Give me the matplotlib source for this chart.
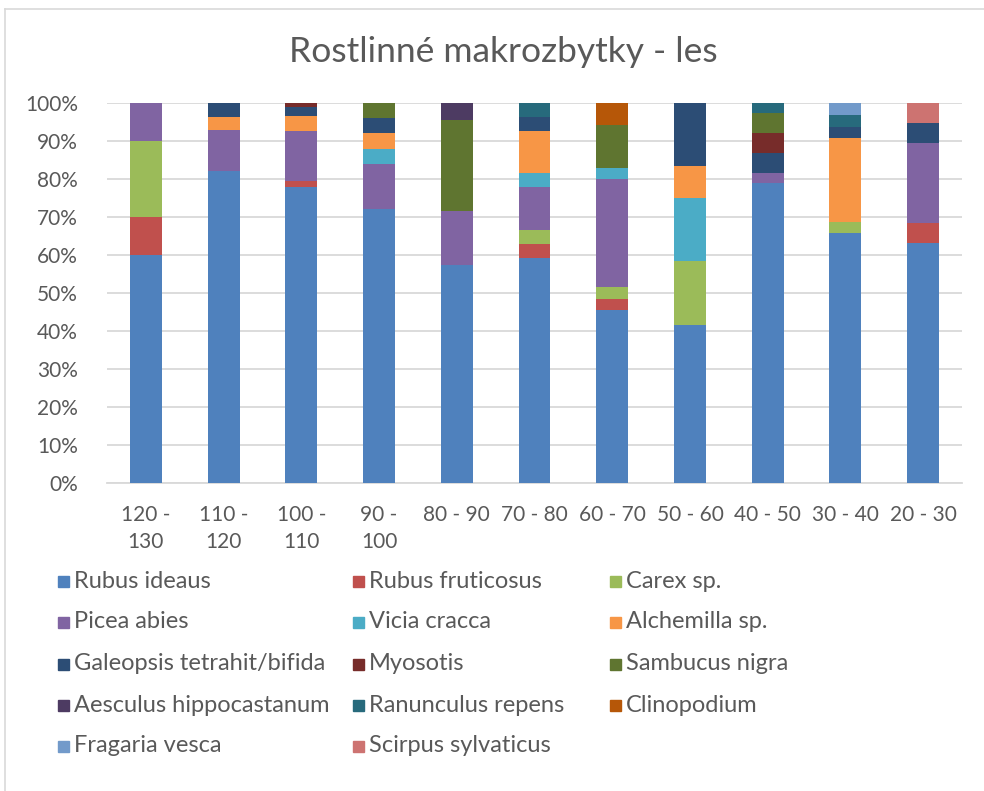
import numpy as np
import matplotlib
matplotlib.use("Agg")
import matplotlib.pyplot as plt
from matplotlib.patches import Rectangle
from matplotlib.lines import Line2D

plt.rcParams["font.family"] = ["Lato", "DejaVu Sans"]

# depth bins (cm), top to bottom of the profile
bins = ["120 -\n130", "110 -\n120", "100 -\n110", "90 -\n100", "80 - 90", "70 - 80",
        "60 - 70", "50 - 60", "40 - 50", "30 - 40", "20 - 30"]

# share of each taxon per bin (%)
rubus_ideaus      = [60.0, 82.1, 78.0, 72.0, 57.3, 59.3, 45.7, 41.7, 78.9, 65.6, 63.2]
rubus_fruticosus  = [10.0, 0, 1.6, 0, 0, 3.7, 2.9, 0, 0, 0, 5.3]
carex             = [20.0, 0, 0, 0, 0, 3.7, 2.9, 16.7, 0, 3.1, 0]
picea_abies       = [10.0, 10.7, 13.1, 12.0, 14.2, 11.1, 28.6, 0, 2.6, 0, 21.1]
vicia_cracca      = [0, 0, 0, 4.0, 0, 3.7, 2.9, 16.7, 0, 0, 0]
alchemilla        = [0, 3.6, 3.9, 4.0, 0, 11.1, 0, 8.3, 0, 21.9, 0]
galeopsis         = [0, 3.6, 2.4, 4.0, 0, 3.7, 0, 16.7, 5.3, 3.1, 5.3]
myosotis          = [0, 0, 1.0, 0, 0, 0, 0, 0, 5.3, 0, 0]
sambucus_nigra    = [0, 0, 0, 4.0, 23.9, 0, 11.4, 0, 5.3, 0, 0]
aesculus          = [0, 0, 0, 0, 4.6, 0, 0, 0, 0, 0, 0]
ranunculus_repens = [0, 0, 0, 0, 0, 3.7, 0, 0, 2.6, 3.1, 0]
clinopodium       = [0, 0, 0, 0, 0, 0, 5.7, 0, 0, 0, 0]
fragaria_vesca    = [0, 0, 0, 0, 0, 0, 0, 0, 0, 3.1, 0]
scirpus           = [0, 0, 0, 0, 0, 0, 0, 0, 0, 0, 5.3]

names = ["Rubus ideaus", "Rubus fruticosus", "Carex sp.", "Picea abies", "Vicia cracca",
         "Alchemilla sp.", "Galeopsis tetrahit/bifida", "Myosotis", "Sambucus nigra",
         "Aesculus hippocastanum", "Ranunculus repens", "Clinopodium", "Fragaria vesca",
         "Scirpus sylvaticus"]
series = [rubus_ideaus, rubus_fruticosus, carex, picea_abies, vicia_cracca, alchemilla,
          galeopsis, myosotis, sambucus_nigra, aesculus, ranunculus_repens, clinopodium,
          fragaria_vesca, scirpus]
colors = ["#4F81BD", "#C0504D", "#9BBB59", "#8064A2", "#4BACC6", "#F79646", "#2C4D75",
          "#772C2A", "#5F7530", "#4D3B62", "#276A7C", "#B65708", "#729ACA", "#CD7371"]

vals = np.array(series, dtype=float)
vals = vals / vals.sum(axis=0)  # 100 % stacked

fig = plt.figure(figsize=(9.84, 7.91), dpi=100)
ax = fig.add_axes([107/984, 1-483/791, 855/984, 380/791])
x = np.arange(len(bins))
bottom = np.zeros(len(bins))
for v, c in zip(vals, colors):
    ax.bar(x, v, 0.41, bottom=bottom, color=c, zorder=3)
    bottom += v

ax.set_xlim(-0.5, len(bins)-0.5)
ax.set_ylim(0, 1)
ax.set_yticks(np.arange(0, 1.01, 0.1))
ax.set_yticklabels([f"{int(round(t*100))}%" for t in np.arange(0, 1.01, 0.1)])
ax.set_xticks(x)
ax.set_xticklabels(bins, linespacing=1.45)
ax.grid(axis="y", color="#D9D9D9", lw=1.3, zorder=0)
for s in ["top", "right", "left"]:
    ax.spines[s].set_visible(False)
ax.spines["bottom"].set_color("#D9D9D9")
ax.spines["bottom"].set_linewidth(1.3)
ax.tick_params(length=0, labelsize=15, colors="#595959")
ax.tick_params(axis="y", pad=21)
ax.tick_params(axis="x", pad=16)

fig.text(503/984, 1-52/791, "Rostlinné makrozbytky - les", ha="center", va="center",
         fontsize=25.5, color="#595959")

# legend, 3 columns like Excel
col_x = [74, 369, 626]
row_y = [581, 622, 664, 705, 746]
for i, (n, c) in enumerate(zip(names, colors)):
    tx = col_x[i % 3]; cy = row_y[i // 3]
    fig.add_artist(Rectangle(((tx-16)/984, 1-(cy+5.5)/791), 11/984, 11/791,
                             transform=fig.transFigure, color=c))
    fig.text(tx/984, 1-cy/791, n, ha="left", va="center", fontsize=17, color="#595959")

# chart frame (left + top edges visible)
fig.add_artist(Line2D([5/984, 5/984], [0, 1-9/791], transform=fig.transFigure, color="#D9D9D9", lw=1.2))
fig.add_artist(Line2D([5/984, 1], [1-9/791, 1-9/791], transform=fig.transFigure, color="#D9D9D9", lw=1.2))

fig.savefig("out.png", dpi=100)
